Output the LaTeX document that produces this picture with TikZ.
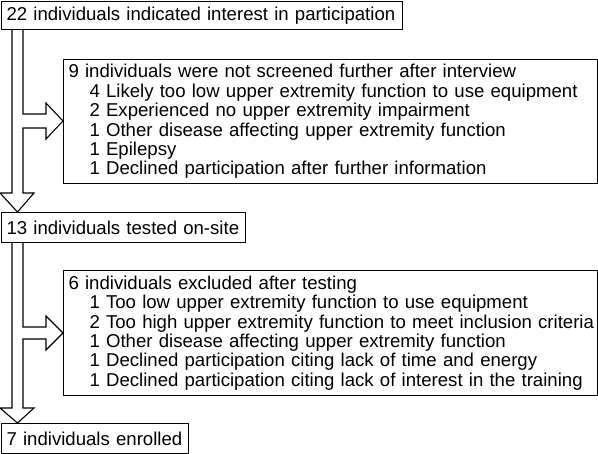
\documentclass[tikz,border=0pt]{standalone}
\usepackage{fontspec}
\setmainfont{Liberation Sans}
\usepackage{tikz}

\begin{document}
\begin{tikzpicture}[x=1pt,y=-1pt,
  box/.style={draw,line width=1.1pt,anchor=north west,inner xsep=5pt,inner ysep=0pt,
    align=left,font=\fontsize{18.6}{19.4}\selectfont},
  hollow/.style={draw,line width=1.1pt,line join=miter}]
\useasboundingbox (0,0) rectangle (598,454);
\newcommand{\ind}{\hspace*{21pt}}
\node (n22) at ( 1,  1) [box,text width=391,minimum height=28] {\mbox{22 individuals indicated interest in participation}};
\node (n9)  at (63, 59) [box,text width=524,minimum height=124] {9 individuals were not screened further after interview\\
\ind 4 Likely too low upper extremity function to use equipment\\
\ind 2 Experienced no upper extremity impairment\\
\ind 1 Other disease affecting upper extremity function\\
\ind 1 Epilepsy\\
\ind 1 Declined participation after further information};
\node (n13) at ( 1,212) [box,text width=234,minimum height=30] {\mbox{13 individuals tested on-site}};
\node (n6)  at (63,270) [box,text width=524,minimum height=125] {6 individuals excluded after testing\\
\ind 1 Too low upper extremity function to use equipment\\
\ind\mbox{2 Too high upper extremity function to meet inclusion criteria}\\
\ind 1 Other disease affecting upper extremity function\\
\ind 1 Declined participation citing lack of time and energy\\
\ind\mbox{1 Declined participation citing lack of interest in the training}};
\node (n7)  at ( 1,423) [box,text width=177,minimum height=30] {\mbox{7 individuals enrolled}};
% hollow arrows
\draw[hollow] (12,0 |- n22.south) -- (12,193) -- (0,193) -- (17.5,0 |- n13.north) -- (34,193) -- (23,193)
  -- (23,128) -- (46,128) -- (46,139) -- (n9.west |- 0,121) -- (46,103) -- (46,114) -- (23,114) -- (23,0 |- n22.south);
\draw[hollow] (12,0 |- n13.south) -- (12,408) -- (0,408) -- (17.5,0 |- n7.north) -- (34,408) -- (23,408)
  -- (23,339) -- (46,339) -- (46,350) -- (n6.west |- 0,333) -- (46,316) -- (46,327) -- (23,327) -- (23,0 |- n13.south);
\end{tikzpicture}
\end{document}
